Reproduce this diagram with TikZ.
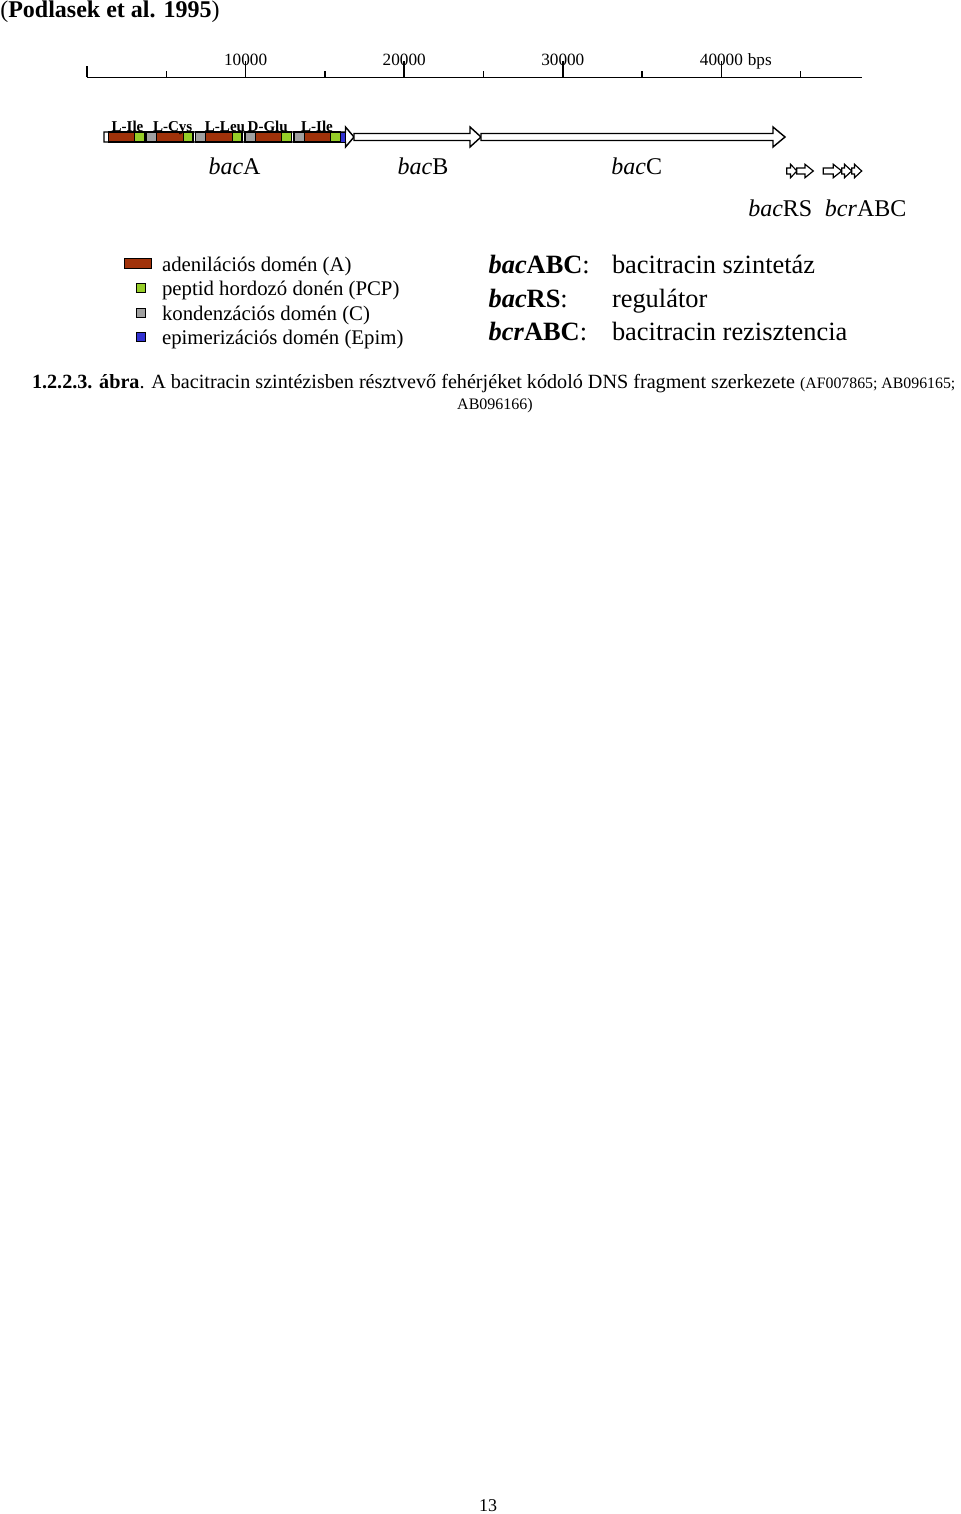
\documentclass[tikz,border=0pt]{standalone}
\usepackage{fontspec}
\setmainfont{Liberation Serif}
\usetikzlibrary{positioning, calc}

\definecolor{adenil}{RGB}{160,50,10}
\definecolor{pcp}{RGB}{150,205,40}
\definecolor{kond}{RGB}{160,160,160}
\definecolor{epim}{RGB}{50,50,210}

\newcommand{\setsz}[1]{\fontsize{#1}{#1}\selectfont}
% hollow gene arrow: [style] start, head start, tip, centre y, body half, head half
\newcommand{\genearrow}[7][gene]{%
  \draw[#1] (#2,#5-#6) -- (#3,#5-#6) -- (#3,#5-#7) -- (#4,#5)
    -- (#3,#5+#7) -- (#3,#5+#6) -- (#2,#5+#6) -- cycle;}

\begin{document}
\begin{tikzpicture}[x=0.625pt, y=-0.625pt,
  txt/.style={inner sep=0pt, anchor=base},
  gene/.style={draw=black, fill=white, line width=0.9pt},
  small gene/.style={gene, line width=0.75pt},
  dom/.style={draw=black, line width=0.6pt},
  tick/.style={line width=0.9pt},
  genelbl/.style={txt, font=\setsz{15pt}},
  leg/.style={txt, anchor=base west, font=\setsz{13pt}},
  legbig/.style={txt, anchor=base west, font=\setsz{16.5pt}}]
\useasboundingbox (0,0) rectangle (960,1514);

% source
\node[txt, anchor=base west, font=\setsz{15pt}] (src) at (0,18) {(\textbf{Podlasek et al. 1995})};

% scale bar
\draw[tick] (87,77.5) -- (861.7,77.5);
\draw[tick] (87,77.5) -- (87,66);
\foreach \k in {1,...,9} {
  \pgfmathsetmacro{\tx}{87+79.3*\k}
  \ifodd\k
    \draw[tick] (\tx,77.5) -- (\tx,71.5);
  \else
    \draw[tick] (\tx,77.5) -- (\tx,61);
  \fi
}
\foreach \k/\v in {2/10000,4/20000,6/30000,8/40000}
  \node[txt, font=\setsz{10.75pt}] (kb\k) at ({87+79.3*\k},66) {\v};
\node[txt, anchor=base west, font=\setsz{10.75pt}] (bps) at ($(kb8.base east)+(4.3,0)$) {bps};

% genes
\genearrow{104}{345.5}{354}{137}{5}{10}
\genearrow{354}{470}{481}{137}{3.5}{10}
\genearrow{481}{773}{785}{137}{3.5}{10}

% bacA modules
\filldraw[dom, fill=adenil] (108.3,132) rectangle (134.3,142);
\filldraw[dom, fill=pcp] (134.3,132) rectangle (145,142);
\draw[tick] (108.3,132) rectangle (145,142);
\foreach \s in {146.7,195.7,245,294} {
  \filldraw[dom, fill=kond] (\s,132) rectangle (\s+10,142);
  \filldraw[dom, fill=adenil] (\s+10,132) rectangle (\s+36.5,142);
  \filldraw[dom, fill=pcp] (\s+36.5,132) rectangle (\s+46.5,142);
  \draw[tick] (\s,132) rectangle (\s+46.5,142);
}
\filldraw[dom, fill=epim] (340.5,132) rectangle (345.5,142);
\foreach \x/\aa [count=\i] in {127.5/L-Ile,172.7/L-Cys,225/L-Leu,267.7/D-Glu,317/L-Ile}
  \node[txt, font=\bfseries\setsz{9.4pt}] (aa\i) at (\x,131.5) {\aa};

% bacRS, bcrABC
\genearrow[small gene]{786.7}{790.5}{797}{171}{3}{6.7}
\genearrow[small gene]{796.7}{805}{813.3}{171}{3}{6.7}
\genearrow[small gene]{823.3}{833.3}{841.7}{171}{3}{6.7}
\genearrow[small gene]{841.7}{844.5}{851.7}{171}{3}{6.7}
\genearrow[small gene]{851.7}{854.5}{861.7}{171}{3}{6.7}

\node[genelbl] (bacA) at (234.5,175) {\textit{bac}A};
\node[genelbl] (bacB) at (423,175) {\textit{bac}B};
\node[genelbl] (bacC) at (636.7,175) {\textit{bac}C};
\node[genelbl, anchor=base west] (bacRS) at (748,217) {\textit{bac}RS};
\node[genelbl, anchor=base west] (bcrABC) at ($(bacRS.base east)+(12,0)$) {\textit{bcr}ABC};

% domain legend
\filldraw[dom, fill=adenil] (124,258.5) rectangle (151.5,268.5);
\filldraw[dom, fill=pcp] (136,283.5) rectangle (145,292.5);
\filldraw[dom, fill=kond] (136,308) rectangle (145,317);
\filldraw[dom, fill=epim] (136,332.5) rectangle (145,341.5);
\node[leg] (legA) at (161.7,271.5) {adenilációs domén (A)};
\node[leg] (legP) at (161.7,296) {peptid hordozó donén (PCP)};
\node[leg] (legC) at (161.7,320.5) {kondenzációs domén (C)};
\node[leg] (legE) at (161.7,345) {epimerizációs domén (Epim)};

% gene legend
\node[legbig] (keyABC) at (488.3,274) {\textbf{\textit{bac}ABC}:};
\node[legbig] (keyRS) at (488.3,307.5) {\textbf{\textit{bac}RS}:};
\node[legbig] (keyBCR) at (488.3,341) {\textbf{\textit{bcr}ABC}:};
\node[legbig] (txtABC) at (611.7,274) {bacitracin szintetáz};
\node[legbig] (txtRS) at (611.7,307.5) {regulátor};
\node[legbig] (txtBCR) at (611.7,341) {bacitracin rezisztencia};

% caption
\node[txt, anchor=base west, font=\setsz{12.6pt}] (capt) at (31.7,389)
  {\textbf{1.2.2.3. ábra}. A bacitracin szintézisben résztvevő fehérjéket kódoló DNS fragment szerkezete {\setsz{9.9pt}(AF007865; AB096165;}};
\node[txt, font=\setsz{10pt}] (capt2) at (495,409.5) {AB096166)};

\node[txt, font=\setsz{11.25pt}] (page) at (488,1511) {13};
\end{tikzpicture}
\end{document}
